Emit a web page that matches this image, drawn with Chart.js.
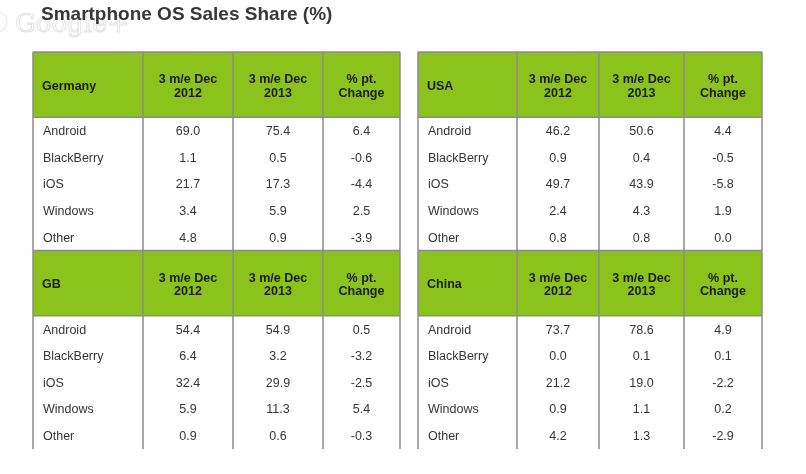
<!DOCTYPE html>
<html>
<head>
<meta charset="utf-8">
<script src="https://cdn.jsdelivr.net/npm/chart.js@4.4.1/dist/chart.umd.min.js"></script>
<style>
  html, body { margin: 0; padding: 0; background: #fff; }
  #wrap { width: 806px; height: 474px; }
</style>
</head>
<body>
<div id="wrap"><canvas id="tableChart" width="806" height="474"></canvas></div>
<script>
const chartTitle = 'Smartphone OS Sales Share (%)';
const countries = ['Germany', 'USA', 'GB', 'China'];
const osNames = ['Android', 'BlackBerry', 'iOS', 'Windows', 'Other'];
const columnHeaders = [['3 m/e Dec', '2012'], ['3 m/e Dec', '2013'], ['% pt.', 'Change']];

const germany2012 = [69.0, 1.1, 21.7, 3.4, 4.8];
const germany2013 = [75.4, 0.5, 17.3, 5.9, 0.9];
const germanyChange = [6.4, -0.6, -4.4, 2.5, -3.9];

const usa2012 = [46.2, 0.9, 49.7, 2.4, 0.8];
const usa2013 = [50.6, 0.4, 43.9, 4.3, 0.8];
const usaChange = [4.4, -0.5, -5.8, 1.9, 0.0];

const gb2012 = [54.4, 6.4, 32.4, 5.9, 0.9];
const gb2013 = [54.9, 3.2, 29.9, 11.3, 0.6];
const gbChange = [0.5, -3.2, -2.5, 5.4, -0.3];

const china2012 = [73.7, 0.0, 21.2, 0.9, 4.2];
const china2013 = [78.6, 0.1, 19.0, 1.1, 1.3];
const chinaChange = [4.9, 0.1, -2.2, 0.2, -2.9];

const tableValues = [
  [germany2012, germany2013, germanyChange],
  [usa2012, usa2013, usaChange],
  [gb2012, gb2013, gbChange],
  [china2012, china2013, chinaChange],
];

// layout (scale units)
const colWidthsLeft = [110, 90, 90, 77];
const colWidthsRight = [99, 82, 85, 78];
const tableGap = 18;
const headerRows = 2.45;
const blockRows = headerRows + osNames.length;

const sum = (a) => a.reduce((s, v) => s + v, 0);
const xMax = sum(colWidthsLeft) + tableGap + sum(colWidthsRight);

const green = '#8cc21c';
const lineColor = '#8c8c8c';

const tablePlugin = {
  id: 'tablePlugin',
  afterDraw(chart) {
    const ctx = chart.ctx;
    const xs = chart.scales.x;
    const ys = chart.scales.y;
    const px = (v) => xs.getPixelForValue(v);
    const py = (v) => ys.getPixelForValue(v);

    ctx.save();
    // faint watermark
    ctx.strokeStyle = '#e2e2e2';
    ctx.lineWidth = 1;
    ctx.beginPath();
    ctx.arc(-3, 22, 10, -Math.PI / 2, Math.PI / 2);
    ctx.stroke();
    ctx.font = '26px "DejaVu Serif", serif';
    ctx.textBaseline = 'alphabetic';
    ctx.strokeText('Google+', 15, 32);

    // title
    ctx.fillStyle = '#383838';
    ctx.font = 'bold 19px "Liberation Sans", Arial, sans-serif';
    ctx.textAlign = 'left';
    ctx.fillText(chartTitle, 41, 20);

    countries.forEach((country, t) => {
      const side = t % 2;
      const stack = Math.floor(t / 2);
      const widths = side === 0 ? colWidthsLeft : colWidthsRight;
      const x0 = side === 0 ? 0 : sum(colWidthsLeft) + tableGap;
      const edges = [x0];
      widths.forEach((w) => edges.push(edges[edges.length - 1] + w));
      const y0 = stack * blockRows;
      const yh = y0 + headerRows;

      // header fill
      ctx.fillStyle = green;
      ctx.fillRect(px(edges[0]), py(y0), px(edges[4]) - px(edges[0]), py(yh) - py(y0));

      // lines
      ctx.strokeStyle = lineColor;
      ctx.lineWidth = 1.5;
      ctx.beginPath();
      [y0, yh].forEach((y) => {
        ctx.moveTo(px(edges[0]), py(y));
        ctx.lineTo(px(edges[4]), py(y));
      });
      edges.forEach((e) => {
        ctx.moveTo(px(e), py(y0));
        ctx.lineTo(px(e), py(y0 + blockRows));
      });
      ctx.stroke();

      // header text
      const hMid = py(y0 + headerRows / 2);
      ctx.fillStyle = '#1c1c1c';
      ctx.font = 'bold 12.5px "Liberation Sans", Arial, sans-serif';
      ctx.textBaseline = 'middle';
      ctx.textAlign = 'left';
      ctx.fillText(country, px(edges[0]) + 9, hMid + 1.5);
      ctx.textAlign = 'center';
      columnHeaders.forEach((lines, c) => {
        const cx = (px(edges[c + 1]) + px(edges[c + 2])) / 2;
        ctx.fillText(lines[0], cx, hMid - 5);
        ctx.fillText(lines[1], cx, hMid + 8.5);
      });

      // data rows
      ctx.fillStyle = '#353535';
      ctx.font = '12.5px "Liberation Sans", Arial, sans-serif';
      osNames.forEach((os, r) => {
        const cy = py(yh + r + 0.5) + 1;
        ctx.textAlign = 'left';
        ctx.fillText(os, px(edges[0]) + 10, cy);
        ctx.textAlign = 'center';
        tableValues[t].forEach((series, c) => {
          const cx = (px(edges[c + 1]) + px(edges[c + 2])) / 2;
          ctx.fillText(series[r].toFixed(1), cx, cy);
        });
      });
    });
    ctx.restore();
  },
};

const ctxTable = document.getElementById('tableChart').getContext('2d');
const tableChart = new Chart(ctxTable, {
  type: 'scatter',
  data: { datasets: [{ data: [] }] },
  options: {
    responsive: false,
    animation: false,
    devicePixelRatio: 1,
    layout: { padding: { left: 33, right: 44, top: 52, bottom: 25 } },
    plugins: { legend: { display: false }, tooltip: { enabled: false } },
    scales: {
      x: { type: 'linear', min: 0, max: xMax, display: false },
      y: { type: 'linear', min: 0, max: 2 * blockRows, reverse: true, display: false },
    },
  },
  plugins: [tablePlugin],
});
</script>
</body>
</html>
